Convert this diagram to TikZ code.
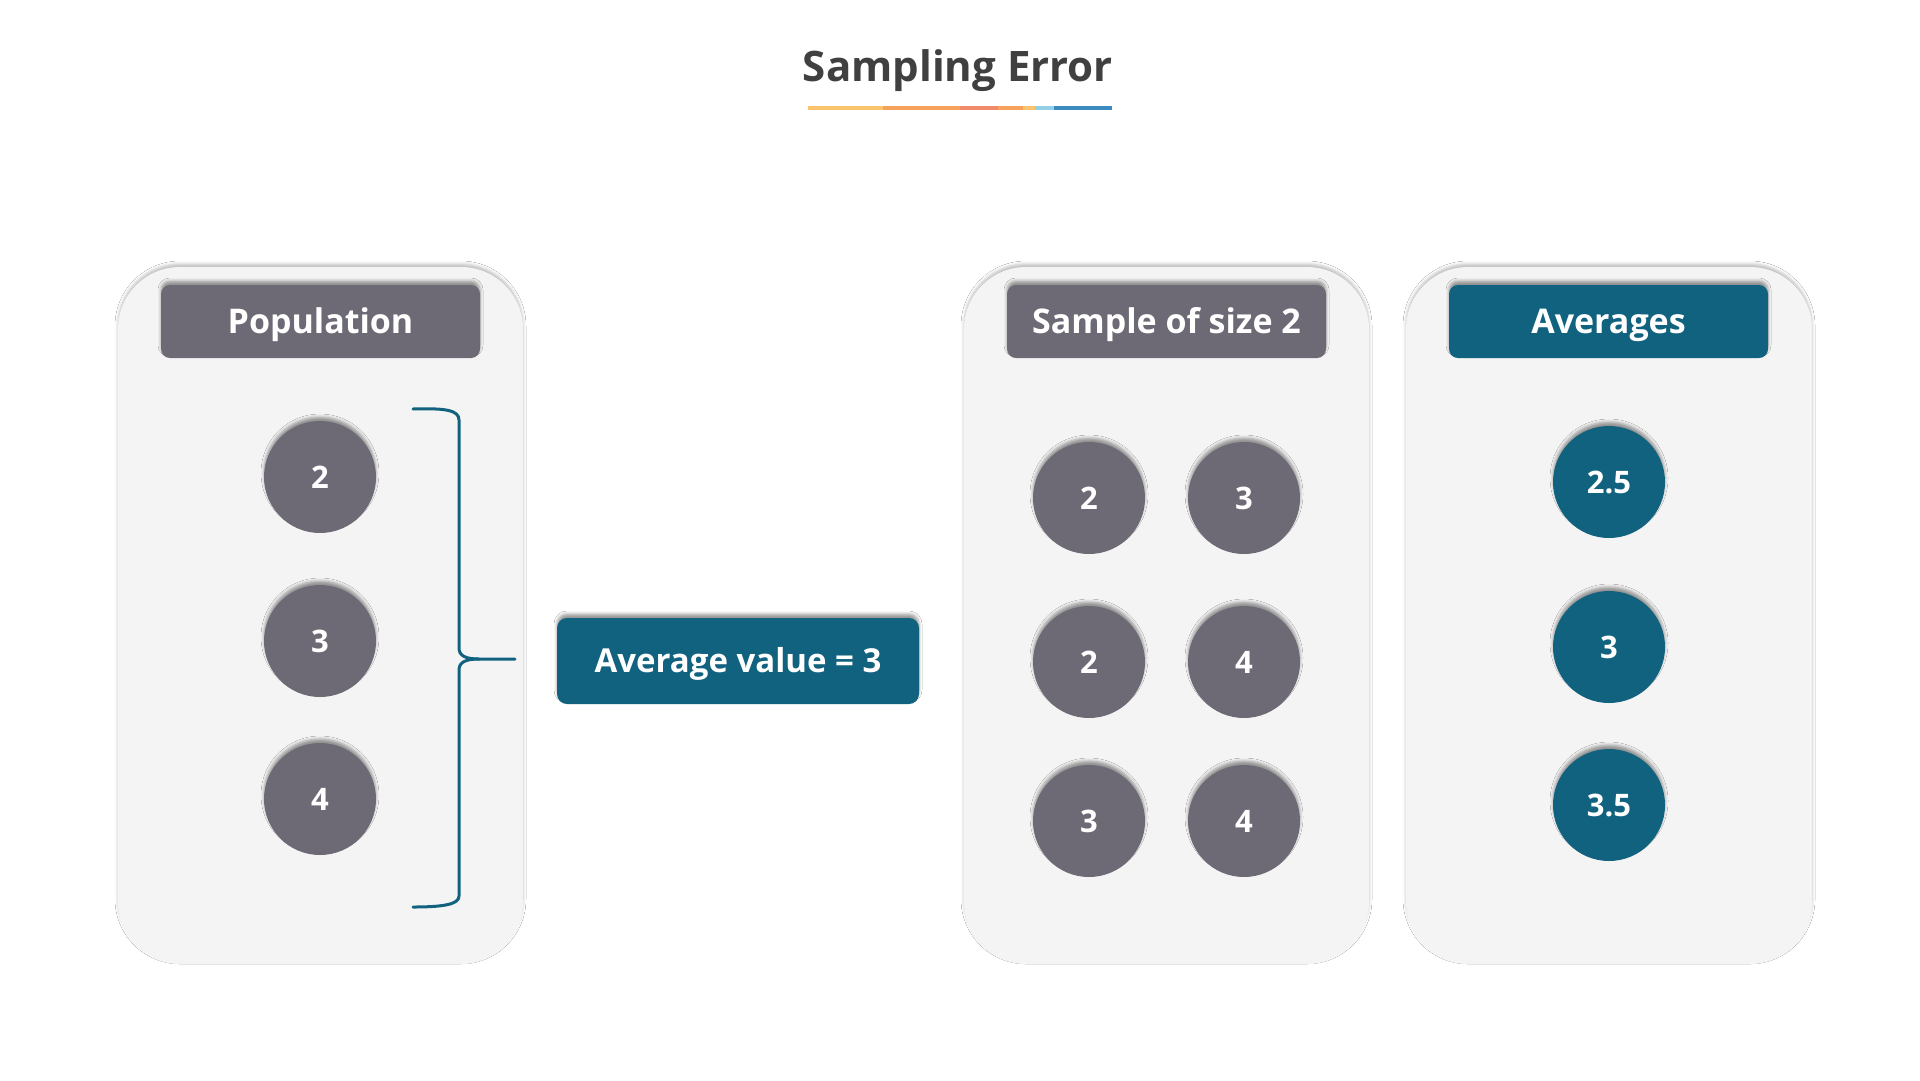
\documentclass[tikz,border=0pt]{standalone}
\usepackage{fontspec}
\setmainfont{Open Sans}
\usetikzlibrary{shadows.blur}
\definecolor{ink}{HTML}{404040}
\definecolor{slate}{HTML}{6D6A75}
\definecolor{teal}{HTML}{11627F}
\definecolor{panelfill}{HTML}{F4F4F4}
\definecolor{ulA}{HTML}{F9C46B}
\definecolor{ulB}{HTML}{F5A25C}
\definecolor{ulC}{HTML}{EF8A6A}
\definecolor{ulD}{HTML}{93D0E8}
\definecolor{ulE}{HTML}{3B8BC0}
\tikzset{
  shade up/.style={blur shadow={shadow xshift=0pt, shadow yshift=4pt, shadow blur radius=3pt, shadow opacity=40}},
  shade panel/.style={blur shadow={shadow xshift=0pt, shadow yshift=3pt, shadow blur radius=3pt, shadow opacity=25}},
  panel/.style={fill=panelfill, rounded corners=62pt, shade panel},
  header/.style={rectangle, rounded corners=9pt, minimum width=319pt, minimum height=73pt,
    inner sep=0pt, text=white, font=\fontsize{34}{40}\selectfont\bfseries,
    text height=24pt, text depth=0pt, shade up},
  dot/.style={circle, minimum size=112pt, inner sep=0pt, text=white,
    font=\fontsize{31}{36}\selectfont\bfseries, text height=22pt, text depth=0pt, shade up},
  graydot/.style={dot, fill=slate},
  tealdot/.style={dot, fill=teal},
  bracket/.style={draw=teal, line width=3pt, line cap=round},
}
\begin{document}
\begin{tikzpicture}[x=1pt,y=-1pt]
\useasboundingbox[fill=white] (0,0) rectangle (1920,1080);

% title
\node[anchor=base, text=ink, font=\fontsize{42}{50}\selectfont\bfseries] (title) at (958,81) {Sampling Error};
\foreach \a/\b/\c in {808/883/ulA, 883/960/ulB, 960/998/ulC, 998/1023/ulB, 1023/1035/ulA, 1035/1054/ulD, 1054/1112/ulE}
  \fill[\c] (\a,106) rectangle (\b,110);

% panels
\path[panel] (118,267) rectangle (523,964);
\path[panel] (964,267) rectangle (1369,964);
\path[panel] (1406,267) rectangle (1812,964);

% headers
\node[header, fill=slate] (hpop) at (320.5,321.5) {Population};
\node[header, fill=slate] (hsam) at (1166.5,321.5) {Sample of size 2};
\node[header, fill=teal] (havg) at (1608.5,321.5) {Averages};

% population circles
\node[graydot] (p1) at (320,477) {2};
\node[graydot] (p2) at (320,641) {3};
\node[graydot] (p3) at (320,799) {4};

% sample circles
\node[graydot] (s11) at (1089,498) {2};
\node[graydot] (s12) at (1244,498) {3};
\node[graydot] (s21) at (1089,662) {2};
\node[graydot] (s22) at (1244,662) {4};
\node[graydot] (s31) at (1089,821) {3};
\node[graydot] (s32) at (1244,821) {4};

% averages circles
\node[tealdot] (a1) at (1609,482) {2.5};
\node[tealdot] (a2) at (1609,647) {3};
\node[tealdot] (a3) at (1609,805) {3.5};

% average value box
\node[rectangle, rounded corners=10pt, fill=teal, minimum width=362pt, minimum height=86pt,
  inner sep=0pt, text=white, font=\fontsize{33}{40}\selectfont\bfseries,
  text height=23pt, text depth=0pt, shade up] (avgbox) at (738,661) {Average value = 3};

% brace
\coordinate (btop) at (413,409);
\coordinate (bbot) at (413,907);
\coordinate (btip) at (515,659);
\draw[bracket] (btop) .. controls (445,408) and (459,410) .. (459,420)
  -- (459,648) .. controls (459,656) and (466,659) .. (479,659) -- (btip);
\draw[bracket] (bbot) .. controls (445,907) and (459,904) .. (459,896)
  -- (459,670) .. controls (459,662) and (466,659) .. (479,659);
\end{tikzpicture}
\end{document}
